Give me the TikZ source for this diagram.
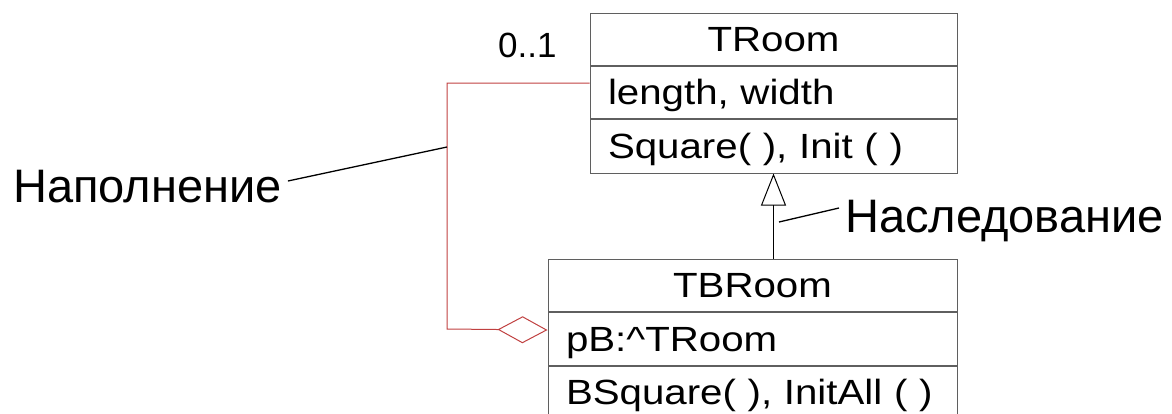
\documentclass[tikz,border=0pt]{standalone}
\usepackage{fontspec}
\setmainfont{Liberation Sans}
\newfontfamily\boxfont[FakeStretch=1.15]{Liberation Sans}
\usetikzlibrary{positioning,arrows.meta}
\definecolor{boxgray}{RGB}{95,95,95}
\definecolor{aggred}{RGB}{192,64,64}
\tikzstyle{classrow} = [draw=boxgray, line width=1pt, rectangle, inner xsep=18pt, inner ysep=0pt,
    minimum height=52pt, text height=25pt, text depth=0pt, align=left,
    font=\boxfont\fontsize{35}{40}\selectfont]
\tikzstyle{classtitle} = [classrow, align=center]
\tikzstyle{bigtext} = [inner xsep=6pt, inner ysep=0pt, text height=34pt, text depth=0pt,
    font=\fontsize{47}{52}\selectfont]
\tikzstyle{leader} = [draw=black, line width=1.3pt]
\tikzstyle{inherit} = [draw=black, line width=1pt, -{Triangle[open, length=32pt, width=25pt]}]
\tikzstyle{aggr} = [draw=aggred, line width=1pt, -{Diamond[open, length=50pt, width=27pt]}]

\begin{document}
\begin{tikzpicture}[x=1pt, y=-1pt]
                \useasboundingbox (0,0) rectangle (1172,413);
                \clip (0,0) rectangle (1172,413);
                \node[classtitle, text width=331pt] (troom) at (773.5,39) {TRoom};
                \node[classrow, text width=331pt, below=0pt of troom] (troomattr) {length, width};
                \node[classrow, text width=331pt, minimum height=54pt, below=0pt of troomattr] (troomops) {Square( ), Init ( )};
                \node[classtitle, text width=373pt] (tbroom) at (752.5,285) {TBRoom};
                \node[classrow, text width=373pt, minimum height=53pt, below=0pt of tbroom] (tbroomattr) {pB:\textasciicircum TRoom};
                \node[classrow, text width=373pt, below=0pt of tbroomattr] (tbroomops) {BSquare( ), InitAll ( )};
                \node[anchor=base west, inner sep=0pt, font=\fontsize{35}{40}\selectfont] (mult) at (498,57) {0..1};
                \node[bigtext, anchor=base west] (fill) at (7,202) {Наполнение};
                \node[bigtext, anchor=base west] (inh) at (839,232) {Наследование};
                \coordinate (aggcorner) at (447,329);
                \coordinate (fillpt) at (447,147);
                \coordinate (inhpt) at (779,222);
                \draw[inherit] (troomops.south |- tbroom.north) -- (troomops.south);
                \draw[aggr] ([yshift=9pt]troomattr.west) -| (aggcorner) -- ([yshift=8.5pt]tbroomattr.west);
                \draw[leader] ([yshift=4pt]fill.east) -- (fillpt);
                \draw[leader] ([yshift=7pt]inh.west) -- (inhpt);
\end{tikzpicture}
\end{document}
